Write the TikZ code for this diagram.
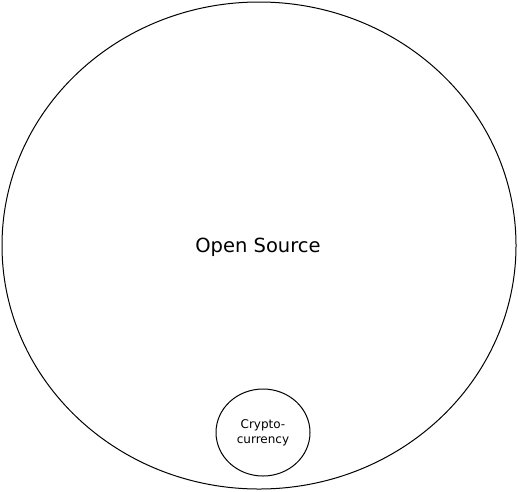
\documentclass[tikz,border=0pt]{standalone}
\usepackage{fontspec}
\setmainfont{DejaVu Sans}
\usetikzlibrary{shapes.geometric}
\begin{document}
\begin{tikzpicture}[x=1pt,y=-1pt,
  circ/.style={draw=black,line width=1pt,ellipse,inner sep=0pt},
  lbl/.style={font=\fontsize{19.5}{22}\selectfont,inner sep=0pt},
  small/.style={font=\fontsize{12}{15}\selectfont,align=center,inner sep=0pt}]
\useasboundingbox (0,0) rectangle (518,491);
\node[circ,minimum width=514pt,minimum height=487pt] (os) at (259,245.5) {};
\node[lbl] (ost) at (258,247) {Open Source};
\node[circ,minimum width=94pt,minimum height=87pt] (cc) at (263,432.5) {};
\node[small] (cct) at (263,433) {Crypto-\\currency};
\end{tikzpicture}
\end{document}
